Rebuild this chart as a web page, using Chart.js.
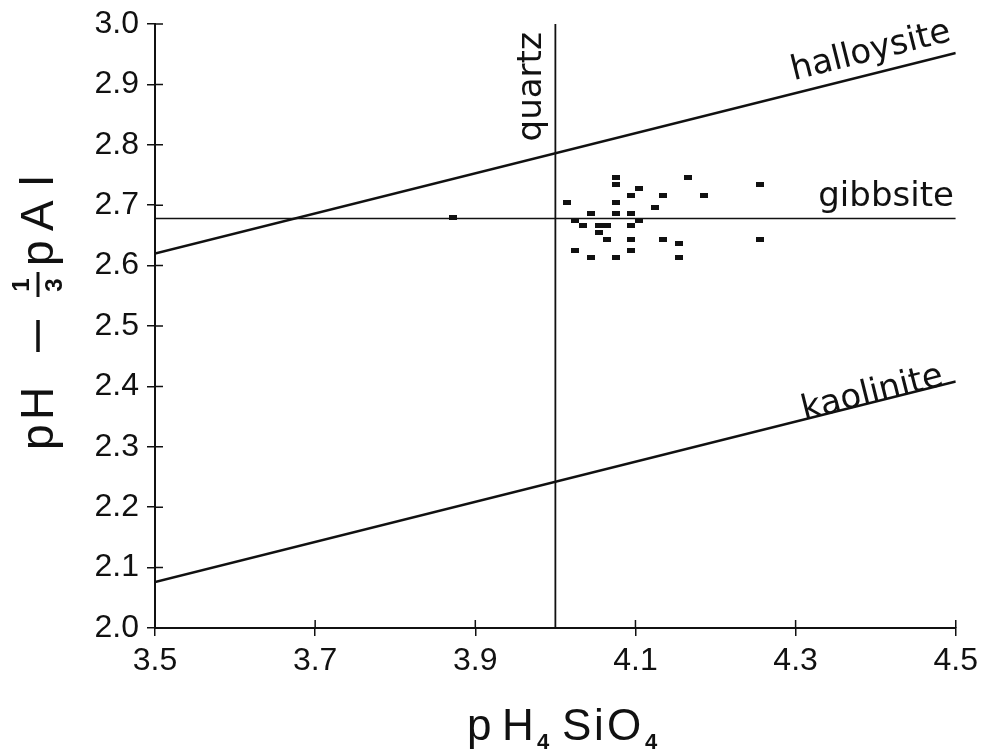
<!DOCTYPE html>
<html>
<head>
<meta charset="utf-8">
<title>pH - 1/3 pAl vs pH4SiO4</title>
<script src="https://cdn.jsdelivr.net/npm/chart.js@4.4.1/dist/chart.umd.min.js"></script>
<style>
  html, body { margin: 0; padding: 0; background: #fff; }
  #wrap { width: 984px; height: 751px; position: relative; }
</style>
</head>
<body>
<div id="wrap"><canvas id="chart"></canvas></div>
<script>
// sample points (pH4SiO4, pH - 1/3 pAl)
var sampleX = [4.076, 4.076, 4.165, 4.255, 4.104, 4.094, 4.135, 4.185, 4.014, 4.076,
               4.125, 4.044, 4.076, 4.094, 4.024, 4.104, 4.035, 4.054, 4.064, 4.094,
               4.054, 4.064, 4.094, 4.135, 4.255, 4.154, 4.024, 4.094, 4.044, 4.076,
               4.154, 3.872];
var sampleY = [2.746, 2.735, 2.746, 2.735, 2.727, 2.716, 2.716, 2.716, 2.705, 2.705,
               2.696, 2.686, 2.686, 2.686, 2.674, 2.674, 2.666, 2.666, 2.666, 2.666,
               2.655, 2.644, 2.644, 2.644, 2.644, 2.636, 2.625, 2.625, 2.614, 2.614,
               2.614, 2.680];

// equilibrium lines
var halloysiteX = [3.5, 4.5];
var halloysiteY = [2.620, 2.952];
var gibbsiteX = [3.5, 4.5];
var gibbsiteY = [2.678, 2.678];
var kaoliniteX = [3.5, 4.5];
var kaoliniteY = [2.076, 2.408];
var quartzX = [4.0, 4.0];
var quartzY = [2.0, 3.0];

// axis ticks
var xTicks = [3.5, 3.7, 3.9, 4.1, 4.3, 4.5];
var yTicks = [2.0, 2.1, 2.2, 2.3, 2.4, 2.5, 2.6, 2.7, 2.8, 2.9, 3.0];

function pts(xs, ys) {
  return xs.map(function (x, i) { return { x: x, y: ys[i] }; });
}

// small flat rectangle used as marker
var marker = document.createElement('canvas');
marker.width = 8;
marker.height = 5;
(function () {
  var m = marker.getContext('2d');
  m.fillStyle = '#111';
  m.fillRect(0, 0, 8, 5);
})();

var labelFont = '34px "DejaVu Sans"';

function yTitle(ctx, area) {
  // rotated title: pH − (1/3) pAl, reading bottom to top
  var mid = (area.top + area.bottom) / 2;
  function L(gy) { return mid - gy; } // page y -> local x after rotation
  ctx.save();
  ctx.translate(53, mid);
  ctx.rotate(-Math.PI / 2);
  ctx.fillStyle = '#111';
  ctx.strokeStyle = '#111';
  ctx.textBaseline = 'alphabetic';
  ctx.textAlign = 'left';
  ctx.font = '46px "Liberation Sans"';
  ctx.fillText('p', L(450), 0);
  ctx.fillText('H', L(420), 0);
  ctx.lineWidth = 3.5;
  ctx.beginPath();
  ctx.moveTo(L(352), -15);
  ctx.lineTo(L(320), -15);
  ctx.stroke();
  // stacked fraction
  ctx.lineWidth = 3;
  ctx.beginPath();
  ctx.moveTo(L(297), -15);
  ctx.lineTo(L(272), -15);
  ctx.stroke();
  ctx.font = 'bold 24px "Liberation Sans"';
  ctx.textAlign = 'center';
  ctx.fillText('1', L(285), -24);
  ctx.fillText('3', L(285), 9);
  ctx.textAlign = 'left';
  ctx.font = '46px "Liberation Sans"';
  ctx.fillText('p', L(266), 0);
  ctx.fillText('A', L(231), 0);
  ctx.fillText('l', L(186), 0);
  ctx.restore();
}

function xTitle(ctx) {
  var big = '44px "Liberation Sans"';
  var small = 'bold 22px "Liberation Sans"';
  var parts = [
    ['p', 467, big, 740], ['H', 502, big, 740], ['4', 537, small, 749],
    ['S', 562, big, 740], ['i', 594, big, 740], ['O', 607, big, 740], ['4', 645, small, 749]
  ];
  ctx.save();
  ctx.fillStyle = '#111';
  ctx.textAlign = 'left';
  ctx.textBaseline = 'alphabetic';
  parts.forEach(function (p) {
    ctx.font = p[2];
    ctx.fillText(p[0], p[1], p[3]);
  });
  ctx.restore();
}

var decor = {
  id: 'decor',
  afterDraw: function (chart) {
    var ctx = chart.ctx;
    var xs = chart.scales.x;
    var ys = chart.scales.y;
    var area = chart.chartArea;

    // inner half of the cross ticks
    ctx.save();
    ctx.strokeStyle = '#111';
    ctx.lineWidth = 1.5;
    ctx.beginPath();
    xTicks.forEach(function (v) {
      var px = xs.getPixelForValue(v);
      ctx.moveTo(px, area.bottom);
      ctx.lineTo(px, area.bottom - 8);
    });
    yTicks.forEach(function (v) {
      var py = ys.getPixelForValue(v);
      ctx.moveTo(area.left, py);
      ctx.lineTo(area.left + 8, py);
    });
    ctx.stroke();

    // line labels
    var ang = Math.atan2(
      ys.getPixelForValue(halloysiteY[1]) - ys.getPixelForValue(halloysiteY[0]),
      xs.getPixelForValue(halloysiteX[1]) - xs.getPixelForValue(halloysiteX[0])
    );
    ctx.fillStyle = '#111';
    ctx.font = labelFont;
    ctx.textAlign = 'center';
    ctx.textBaseline = 'middle';

    function label(text, x, y, rot) {
      ctx.save();
      ctx.translate(xs.getPixelForValue(x), ys.getPixelForValue(y));
      ctx.rotate(rot);
      ctx.fillText(text, 0, 0);
      ctx.restore();
    }
    label('halloysite', 4.394, 2.954, ang);
    label('gibbsite', 4.413, 2.714, 0);
    label('kaolinite', 4.396, 2.388, ang);
    label('quartz', 3.971, 2.896, -Math.PI / 2);
    ctx.restore();

    yTitle(ctx, area);
    xTitle(ctx);
  }
};

new Chart(document.getElementById('chart'), {
  type: 'scatter',
  data: {
    datasets: [
      {
        label: 'samples',
        data: pts(sampleX, sampleY),
        pointStyle: marker,
        pointRadius: 4,
        order: 0,
      },
      {
        label: 'halloysite',
        data: pts(halloysiteX, halloysiteY),
        showLine: true,
        borderColor: '#111',
        borderWidth: 2.5,
        pointRadius: 0,
        order: 1,
      },
      {
        label: 'gibbsite',
        data: pts(gibbsiteX, gibbsiteY),
        showLine: true,
        borderColor: '#111',
        borderWidth: 1.6,
        pointRadius: 0,
        order: 1,
      },
      {
        label: 'kaolinite',
        data: pts(kaoliniteX, kaoliniteY),
        showLine: true,
        borderColor: '#111',
        borderWidth: 2.5,
        pointRadius: 0,
        order: 1,
      },
      {
        label: 'quartz',
        data: pts(quartzX, quartzY),
        showLine: true,
        borderColor: '#111',
        borderWidth: 1.8,
        pointRadius: 0,
        order: 1,
      },
    ],
  },
  options: {
    responsive: true,
    maintainAspectRatio: false,
    animation: false,
    layout: { padding: { top: 22, right: 28, left: 0, bottom: 0 } },
    plugins: {
      legend: { display: false },
      tooltip: { enabled: false },
    },
    scales: {
      x: {
        type: 'linear',
        min: 3.5,
        max: 4.5,
        afterFit: function (s) { s.height = 123; },
        afterBuildTicks: function (s) { s.ticks = xTicks.map(function (v) { return { value: v }; }); },
        ticks: {
          color: '#111',
          font: { family: 'Liberation Sans', size: 32 },
          padding: 6,
          maxRotation: 0,
          callback: function (v) { return Number(v).toFixed(1); },
        },
        grid: { drawOnChartArea: false, color: '#111', lineWidth: 1.5, tickLength: 8 },
        border: { color: '#111', width: 2 },
      },
      y: {
        type: 'linear',
        min: 2.0,
        max: 3.0,
        afterFit: function (s) { s.width = 155; },
        afterBuildTicks: function (s) { s.ticks = yTicks.map(function (v) { return { value: v }; }); },
        ticks: {
          color: '#111',
          font: { family: 'Liberation Sans', size: 32, lineHeight: 1 },
          padding: 8,
          callback: function (v) { return Number(v).toFixed(1); },
        },
        grid: { drawOnChartArea: false, color: '#111', lineWidth: 1.5, tickLength: 8 },
        border: { color: '#111', width: 2 },
      },
    },
  },
  plugins: [decor],
});
</script>
</body>
</html>
